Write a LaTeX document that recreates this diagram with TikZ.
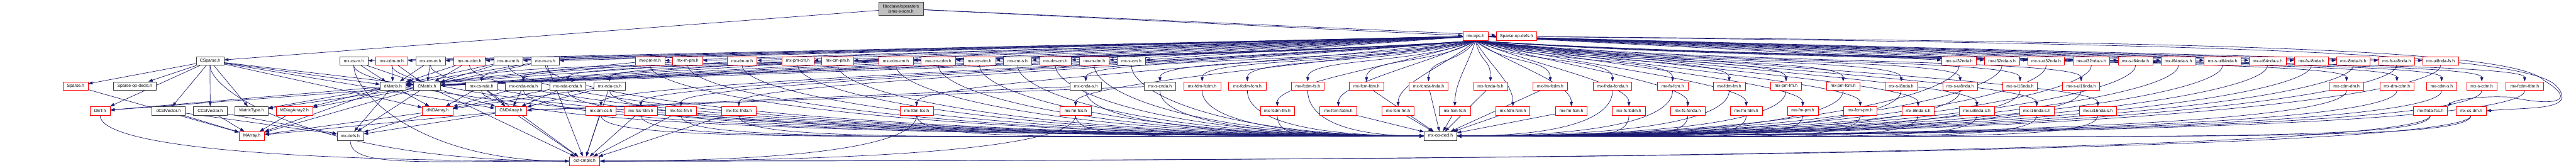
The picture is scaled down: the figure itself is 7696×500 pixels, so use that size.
\documentclass[tikz,border=0pt]{standalone}
\usepackage{fontspec}
\setmainfont{Liberation Sans}
\usetikzlibrary{arrows.meta,calc}
\definecolor{edgec}{RGB}{25,25,112}
\definecolor{nodered}{RGB}{255,0,0}
\definecolor{nodeblack}{RGB}{64,64,64}
\definecolor{rootfill}{RGB}{191,191,191}
\newcommand{\nodefont}{\fontsize{12.8}{14.5}\selectfont}
\newcommand{\nd}[6]{\node[#6, minimum width={#4pt-#3pt}] (#1) at ({(#3+#4)/2},#5) {#2};}
\newcommand{\E}[2]{\draw[e] (#1) -- (#2);}
\newcommand{\B}[3]{\draw[e] let \p1=(#1.south), \p2=(#2.#3) in (\p1) .. controls (\x1,{\y1-80pt}) and ({\x2+0.7*(\x1-\x2)},\y2) .. (\p2);}
\newcommand{\F}[1]{\draw[e] let \p1=(mxops.south), \p2=(#1.north) in (\p1) .. controls ({\x1+0.35*(\x2-\x1)},{\y1-70pt}) and (\x2,{\y2+70pt}) .. (\p2);}
\pgfdeclarelayer{bg}
\pgfsetlayers{bg,main}
\begin{document}
\begin{tikzpicture}[x=1pt,y=-1pt,
  e/.style={draw=edgec, line width=1.3pt, -{Triangle[length=13pt,width=9pt]}},
  nb/.style={draw=nodeblack, fill=white, line width=1.3pt, inner sep=0pt, minimum height=26pt, font=\nodefont},
  nr/.style={nb, draw=nodered}]
\useasboundingbox (0,0) rectangle (7696,500);
% root
\node[nb, fill=rootfill, minimum width=133pt, minimum height=41pt, align=center] (G) at (2691.5,26) {liboctave/operators\\/smx-s-scm.h};
% row 1
\nd{mxops}{mx-ops.h}{4370}{4446}{108}{nr}
\nd{spdefs}{Sparse-op-defs.h}{4470}{4591}{108}{nr}
% row 2
\nd{csparse}{CSparse.h}{586}{669}{182}{nb}
\nd{mxcsm}{mx-cs-m.h}{1015}{1099}{182}{nb}
\nd{mxcdmm}{mx-cdm-m.h}{1123}{1218}{182}{nr}
\nd{mxcmm}{mx-cm-m.h}{1242}{1330}{182}{nb}
\nd{mxmcdm}{mx-m-cdm.h}{1355}{1450}{182}{nr}
\nd{mxmcm}{mx-m-cm.h}{1475}{1562}{182}{nb}
\nd{mxmcs}{mx-m-cs.h}{1587}{1671}{182}{nb}
\nd{mxpmm}{mx-pm-m.h}{1898}{1986}{182}{nr}
\nd{mxmpm}{mx-m-pm.h}{2010}{2099}{182}{nr}
\nd{mxdmm}{mx-dm-m.h}{2173}{2261}{182}{nr}
\nd{mxpmcm}{mx-pm-cm.h}{2336}{2431}{182}{nr}
\nd{mxcmpm}{mx-cm-pm.h}{2455}{2550}{182}{nr}
\nd{mxcdmcm}{mx-cdm-cm.h}{2625}{2728}{182}{nr}
\nd{mxcmcdm}{mx-cm-cdm.h}{2752}{2855}{182}{nr}
\nd{mxcmdm}{mx-cm-dm.h}{2879}{2974}{182}{nr}
\nd{mxcms}{mx-cm-s.h}{2998}{3082}{182}{nb}
\nd{mxdmcm}{mx-dm-cm.h}{3106}{3200}{182}{nr}
\nd{mxmdm}{mx-m-dm.h}{3225}{3313}{182}{nr}
\nd{mxscm}{mx-s-cm.h}{3338}{3422}{182}{nb}
\nd{mxsi32}{mx-s-i32nda.h}{5801}{5905}{182}{nr}
\nd{mxi32s}{mx-i32nda-s.h}{5929}{6033}{182}{nr}
\nd{mxsui32}{mx-s-ui32nda.h}{6058}{6168}{182}{nr}
\nd{mxui32s}{mx-ui32nda-s.h}{6193}{6303}{182}{nr}
\nd{mxsi64}{mx-s-i64nda.h}{6328}{6432}{182}{nr}
\nd{mxi64s}{mx-i64nda-s.h}{6456}{6560}{182}{nr}
\nd{mxsui64}{mx-s-ui64nda.h}{6585}{6695}{182}{nr}
\nd{mxui64s}{mx-ui64nda-s.h}{6719}{6830}{182}{nr}
\nd{mxfsi8}{mx-fs-i8nda.h}{6855}{6956}{182}{nr}
\nd{mxi8fs}{mx-i8nda-fs.h}{6980}{7081}{182}{nr}
\nd{mxfsui8}{mx-fs-ui8nda.h}{7106}{7214}{182}{nr}
\nd{mxui8fs}{mx-ui8nda-fs.h}{7238}{7345}{182}{nr}
% row 3
\nd{sparse}{Sparse.h}{189}{263}{257}{nr}
\nd{spdecls}{Sparse-op-decls.h}{339}{466}{257}{nb}
\nd{dmatrix}{dMatrix.h}{1136}{1212}{257}{nb}
\nd{cmatrix}{CMatrix.h}{1236}{1315}{257}{nb}
\nd{mxcsnda}{mx-cs-nda.h}{1391}{1486}{257}{nb}
\nd{mxcndanda}{mx-cnda-nda.h}{1510}{1618}{257}{nb}
\nd{mxndacnda}{mx-nda-cnda.h}{1642}{1750}{257}{nb}
\nd{mxndacs}{mx-nda-cs.h}{1774}{1869}{257}{nb}
\nd{mxcndas}{mx-cnda-s.h}{3197}{3291}{257}{nb}
\nd{mxscnda}{mx-s-cnda.h}{3418}{3513}{257}{nb}
\nd{mxfdmfcdm}{mx-fdm-fcdm.h}{3536}{3647}{257}{nr}
\nd{mxfcdmfcm}{mx-fcdm-fcm.h}{3671}{3782}{257}{nr}
\nd{mxfcdmfs}{mx-fcdm-fs.h}{3858}{3956}{257}{nr}
\nd{mxfcmfdm}{mx-fcm-fdm.h}{4031}{4134}{257}{nr}
\nd{mxfcndafnda}{mx-fcnda-fnda.h}{4210}{4326}{257}{nr}
\nd{mxfcndafs}{mx-fcnda-fs.h}{4402}{4504}{257}{nr}
\nd{mxfmfcdm}{mx-fm-fcdm.h}{4580}{4683}{257}{nr}
\nd{mxfndafcnda}{mx-fnda-fcnda.h}{4760}{4875}{257}{nr}
\nd{mxfsfcm}{mx-fs-fcm.h}{4951}{5043}{257}{nr}
\nd{mxfdmfm}{mx-fdm-fm.h}{5118}{5214}{257}{nr}
\nd{mxpmfm}{mx-pm-fm.h}{5290}{5382}{257}{nr}
\nd{mxpmfcm}{mx-pm-fcm.h}{5457}{5556}{257}{nr}
\nd{mxsi8}{mx-s-i8nda.h}{5631}{5729}{257}{nr}
\nd{mxsui8}{mx-s-ui8nda.h}{5804}{5908}{257}{nr}
\nd{mxsi16}{mx-s-i16nda.h}{5983}{6087}{257}{nr}
\nd{mxsui16}{mx-s-ui16nda.h}{6162}{6273}{257}{nr}
\nd{mxcdmdm}{mx-cdm-dm.h}{6959}{7062}{257}{nr}
\nd{mxdmcdm}{mx-dm-cdm.h}{7110}{7212}{257}{nr}
\nd{mxcdms}{mx-cdm-s.h}{7249}{7340}{257}{nr}
\nd{mxscdm}{mx-s-cdm.h}{7369}{7460}{257}{nr}
\nd{mxfcdmfdm}{mx-fcdm-fdm.h}{7487}{7598}{257}{nr}
% row 4
\nd{det}{DET.h}{269}{329}{331}{nr}
\nd{dcolvec}{dColVector.h}{454}{553}{331}{nb}
\nd{ccolvec}{CColVector.h}{578}{678}{331}{nb}
\nd{mattype}{MatrixType.h}{702}{801}{331}{nb}
\nd{mdiag}{MDiagArray2.h}{825}{934}{331}{nr}
\nd{dnda}{dNDArray.h}{1262}{1353}{331}{nr}
\nd{cnda}{CNDArray.h}{1479}{1574}{331}{nr}
\nd{mxdmcs}{mx-dm-cs.h}{1750}{1841}{331}{nr}
\nd{mxfcsfdm}{mx-fcs-fdm.h}{1865}{1964}{331}{nr}
\nd{mxfcsfm}{mx-fcs-fm.h}{1989}{2080}{331}{nr}
\nd{mxfcsfnda}{mx-fcs-fnda.h}{2156}{2259}{331}{nr}
\nd{mxfdmfcs}{mx-fdm-fcs.h}{2689}{2788}{331}{nr}
\nd{mxfmfcs}{mx-fm-fcs.h}{3167}{3260}{331}{nr}
\nd{mxfcdmfm}{mx-fcdm-fm.h}{3765}{3867}{331}{nr}
\nd{mxfcmfcdm}{mx-fcm-fcdm.h}{3943}{4054}{331}{nr}
\nd{mxfcmfm}{mx-fcm-fm.h}{4129}{4225}{331}{nr}
\nd{mxfcmfs}{mx-fcm-fs.h}{4300}{4393}{331}{nr}
\nd{mxfdmfcm}{mx-fdm-fcm.h}{4469}{4571}{331}{nr}
\nd{mxfmfcm}{mx-fm-fcm.h}{4647}{4742}{331}{nr}
\nd{mxfsfcdm}{mx-fs-fcdm.h}{4817}{4916}{331}{nr}
\nd{mxfsfcnda}{mx-fs-fcnda.h}{4991}{5094}{331}{nr}
\nd{mxfmfdm}{mx-fm-fdm.h}{5169}{5265}{331}{nr}
\nd{mxfmpm}{mx-fm-pm.h}{5340}{5432}{331}{nr}
\nd{mxfcmpm}{mx-fcm-pm.h}{5508}{5607}{331}{nr}
\nd{mxi8s}{mx-i8nda-s.h}{5682}{5779}{331}{nr}
\nd{mxui8s}{mx-ui8nda-s.h}{5854}{5958}{331}{nr}
\nd{mxi16s}{mx-i16nda-s.h}{6033}{6137}{331}{nr}
\nd{mxui16s}{mx-ui16nda-s.h}{6212}{6323}{331}{nr}
\nd{mxfndafcs}{mx-fnda-fcs.h}{7210}{7312}{331}{nr}
\nd{mxcsdm}{mx-cs-dm.h}{7337}{7428}{331}{nr}
% row 5
\nd{marray}{MArray.h}{715}{790}{406}{nr}
\nd{mxdefs}{mx-defs.h}{1007}{1086}{406}{nb}
\nd{mxopdecl}{mx-op-decl.h}{4255}{4352}{406}{nb}
% row 6
\nd{octcmplx}{oct-cmplx.h}{1701}{1792}{481}{nr}

\begin{pgfonlayer}{bg}
% root
\E{G}{csparse}\E{G}{mxops}\E{G}{spdefs}
% mx-ops fan: row 2 straight
\foreach \t in {mxcsm,mxcdmm,mxcmm,mxmcdm,mxmcm,mxmcs,mxpmm,mxmpm,mxdmm,mxpmcm,mxcmpm,mxcdmcm,mxcmcdm,mxcmdm,mxcms,mxdmcm,mxmdm,mxscm,
  mxsi32,mxi32s,mxsui32,mxui32s,mxsi64,mxi64s,mxsui64,mxui64s,mxfsi8,mxi8fs,mxfsui8,mxui8fs}
  {\draw[e] (mxops) -- (\t);}
% rows 3-4 curved
\foreach \t in {mxcsnda,mxcndanda,mxndacnda,mxndacs,mxcndas,mxscnda,mxfdmfcdm,mxfcdmfcm,mxfcdmfs,mxfcmfdm,mxfcndafnda,mxfcndafs,mxfmfcdm,mxfndafcnda,mxfsfcm,mxfdmfm,mxpmfm,mxpmfcm,mxsi8,mxsui8,mxsi16,mxsui16,mxcdmdm,mxdmcdm,mxcdms,mxscdm,mxfcdmfdm,
  mxdmcs,mxfcsfdm,mxfcsfm,mxfcsfnda,mxfdmfcs,mxfmfcs,mxfcdmfm,mxfcmfcdm,mxfcmfm,mxfcmfs,mxfdmfcm,mxfmfcm,mxfsfcdm,mxfsfcnda,mxfmfdm,mxfmpm,mxfcmpm,mxi8s,mxui8s,mxi16s,mxui16s}
  {\F{\t}}
% far right loops
\draw[e] (mxops.east) .. controls (6500,130) and (7560,150) .. (7640,260) .. controls (7700,330) and (7560,320) .. (mxcsdm.east);
\draw[e] (mxops.east) .. controls (6500,125) and (7500,140) .. (7600,240) .. controls (7700,300) and (7640,320) .. (7500,290) .. controls (7400,285) and (7330,300) .. (mxfndafcs.north east);
% to mx-op-decl
\foreach \t in {mxcsm,mxcdmm,mxcmm,mxmcdm,mxmcm,mxmcs,mxpmm,mxmpm,mxdmm,mxpmcm,mxcmpm,mxcdmcm,mxcmcdm,mxcmdm,mxcms,mxdmcm,mxmdm,mxscm,
  mxcsnda,mxcndanda,mxndacnda,mxndacs,mxcndas,mxscnda,mxfdmfcdm,mxfcdmfcm,mxfcdmfs,
  mxdmcs,mxfcsfdm,mxfcsfm,mxfcsfnda,mxfdmfcs,mxfmfcs,mxfcdmfm}
  {\B{\t}{mxopdecl}{west}}
\foreach \t in {mxfcmfdm,mxfcndafnda,mxfcndafs,mxfcmfcdm,mxfcmfm,mxfcmfs,mxfdmfcm,mxfmfcdm,mxfmfcm}
  {\draw[e] (\t) -- (mxopdecl);}
\foreach \t in {mxsi32,mxi32s,mxsui32,mxui32s,mxsi64,mxi64s,mxsui64,mxui64s,mxfsi8,mxi8fs,mxfsui8,mxui8fs,
  mxfndafcnda,mxfsfcm,mxfdmfm,mxpmfm,mxpmfcm,mxsi8,mxsui8,mxsi16,mxsui16,mxcdmdm,mxdmcdm,mxcdms,mxscdm,mxfcdmfdm,
  mxfsfcdm,mxfsfcnda,mxfmfdm,mxfmpm,mxfcmpm,mxi8s,mxui8s,mxi16s,mxui16s,mxfndafcs,mxcsdm}
  {\B{\t}{mxopdecl}{east}}
% core
\foreach \t in {sparse,spdecls,det,dcolvec,ccolvec,mattype,dmatrix,cmatrix,dnda,cnda}{\draw[e] (csparse) -- (\t);}
\B{csparse}{octcmplx}{west}
\E{sparse}{marray}
\E{dcolvec}{marray}\E{dcolvec}{mxdefs}
\E{ccolvec}{marray}\E{ccolvec}{mxdefs}
\E{mdiag}{marray}
\foreach \t in {det,mattype,mdiag,mxdefs,dnda,marray}{\draw[e] (dmatrix) -- (\t);}
\foreach \t in {det,mattype,mdiag,mxdefs,cnda,marray}{\draw[e] (cmatrix) -- (\t);}
\E{cmatrix}{octcmplx}
\E{dnda}{marray}\E{dnda}{mxdefs}
\E{cnda}{marray}\E{cnda}{mxdefs}\E{cnda}{octcmplx}
\B{det}{octcmplx}{west}
\B{mxdefs}{octcmplx}{west}
% mx to types
\foreach \s in {mxcsm,mxcdmm,mxcmm,mxmcdm,mxmcm,mxmcs,mxpmm,mxmpm,mxdmm,mxmdm}{\draw[e] (\s) -- (dmatrix);}
\foreach \s in {mxcsm,mxcdmm,mxcmm,mxmcdm,mxmcm,mxmcs,mxpmcm,mxcmpm,mxcdmcm,mxcmcdm,mxcmdm,mxcms,mxdmcm,mxscm}{\draw[e] (\s) -- (cmatrix);}
\foreach \s in {mxcsnda,mxcndanda,mxndacnda,mxndacs}{\draw[e] (\s) -- (dnda);}
\foreach \s in {mxcsnda,mxcndanda,mxndacnda,mxndacs,mxcndas,mxscnda}{\draw[e] (\s) -- (cnda);}
\B{mxcsm}{octcmplx}{west}
\foreach \s in {mxmcs,mxcsnda,mxndacs,mxdmcs,mxfcsfdm,mxfcsfm,mxfcsfnda}{\draw[e] (\s) -- (octcmplx);}
\foreach \s in {mxfdmfcs,mxfmfcs,mxfndafcs,mxcsdm}{\B{\s}{octcmplx}{east}}
\end{pgfonlayer}
\end{tikzpicture}
\end{document}
